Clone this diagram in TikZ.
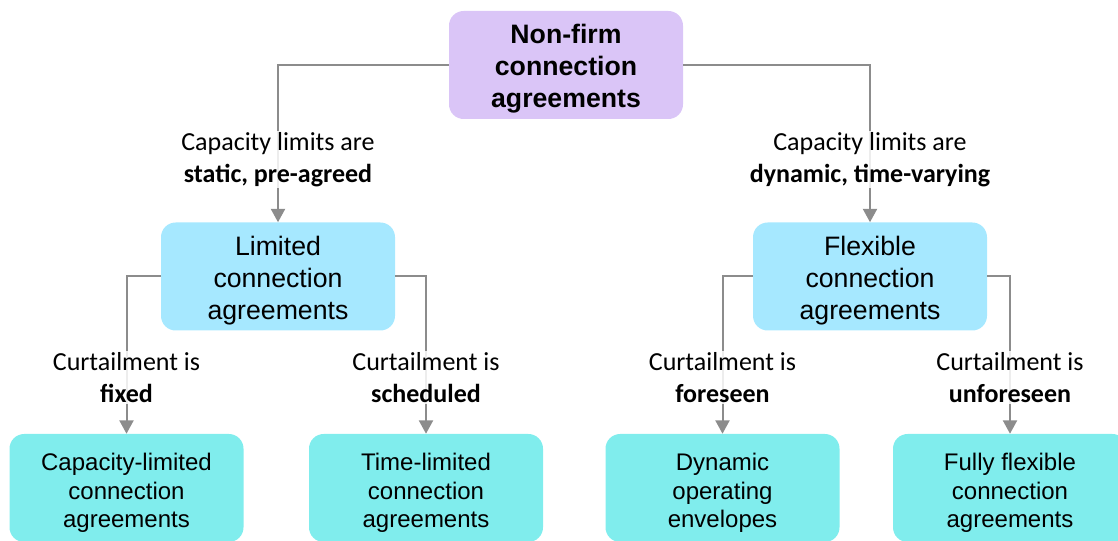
\documentclass[tikz,border=0pt]{standalone}
\usepackage{fontspec}
\setmainfont{Liberation Sans}
\newfontfamily\lblfont{Carlito}
\usetikzlibrary{arrows.meta, positioning}
\definecolor{nonfirmpurple}{RGB}{218,197,247}
\definecolor{agreeblue}{RGB}{166,232,255}
\definecolor{agreecyan}{RGB}{128,237,237}
\definecolor{linkgray}{RGB}{140,140,140}
\newcommand{\boxstrut}{\rule{0pt}{20.5pt}}

\begin{document}
\begin{tikzpicture}[
    x=0.75pt, y=-0.75pt,
    every node/.style={align=center},
    agree/.style={rounded corners=11pt, minimum width=175.5pt, minimum height=81pt, inner sep=0pt},
    toplevel/.style={agree, fill=nonfirmpurple, font=\fontsize{20}{24}\selectfont\bfseries},
    midlevel/.style={agree, fill=agreeblue, font=\fontsize{20}{24}\selectfont},
    leaflevel/.style={agree, fill=agreecyan, font=\fontsize{18}{21.4}\selectfont},
    link/.style={draw=linkgray, line width=1.5pt, -{Triangle[width=10.5pt,length=10pt]}},
    cond/.style={fill=white, fill opacity=0.85, text opacity=1, inner sep=1pt, font=\lblfont\fontsize{19.5}{24}\selectfont}
]
\useasboundingbox (0,0) rectangle (1118,541);
\clip (0,0) rectangle (1118,541);

\node[toplevel] (nonfirm) at (566,65) {\boxstrut Non-firm\\connection\\agreements};

\node[midlevel] (limited) at (278,276.5) {\boxstrut Limited\\connection\\agreements};
\node[midlevel] (flexible) at (870,276.5) {\boxstrut Flexible\\connection\\agreements};

\node[leaflevel] (caplimited) at (126.5,488) {\boxstrut Capacity-limited\\connection\\agreements};
\node[leaflevel] (timelimited) at (426,488) {\boxstrut Time-limited\\connection\\agreements};
\node[leaflevel] (dynamicenv) at (722.5,488) {\boxstrut Dynamic\\operating\\envelopes};
\node[leaflevel] (fullyflex) at (1010,488) {\boxstrut Fully flexible\\connection\\agreements};

\draw[link] (nonfirm.west) -| node[cond, pos=0.8] {Capacity limits are\\\textbf{static, pre-agreed}} (limited.north);
\draw[link] (nonfirm.east) -| node[cond, pos=0.8] {Capacity limits are\\\textbf{dynamic, time-varying}} (flexible.north);

\draw[link] (limited.west) -| node[cond, pos=0.82] {Curtailment is\\\textbf{fixed}} (caplimited.north);
\draw[link] (limited.east) -| node[cond, pos=0.82] {Curtailment is\\\textbf{scheduled}} (timelimited.north);
\draw[link] (flexible.west) -| node[cond, pos=0.82] {Curtailment is\\\textbf{foreseen}} (dynamicenv.north);
\draw[link] (flexible.east) -| node[cond, pos=0.82] {Curtailment is\\\textbf{unforeseen}} (fullyflex.north);

\end{tikzpicture}
\end{document}
